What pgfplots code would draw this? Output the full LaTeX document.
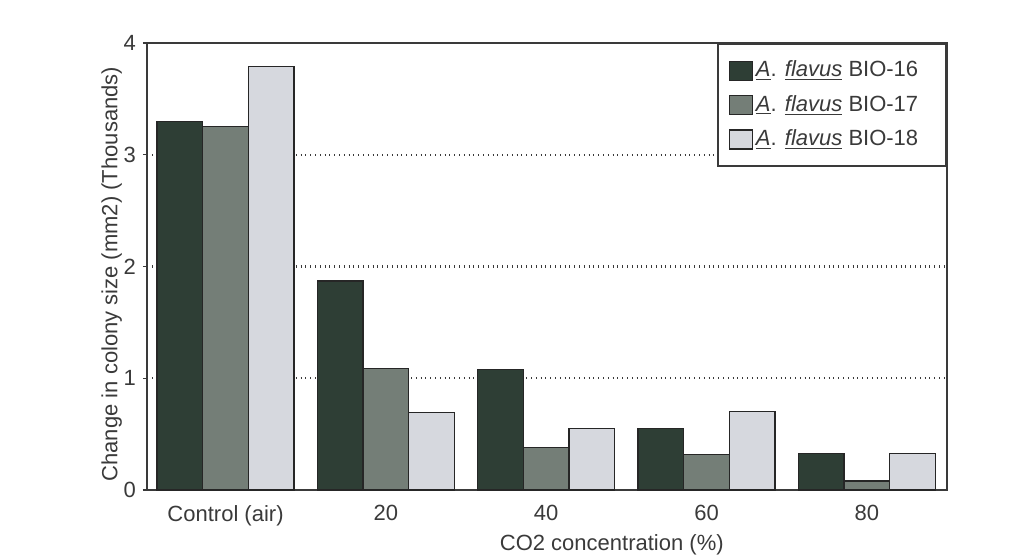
\documentclass[border=0pt]{standalone}
\usepackage{pgfplots}
\pgfplotsset{compat=1.18}
\usepackage{fontspec}
\setmainfont{Liberation Sans}

\definecolor{bioA}{RGB}{46,62,53}
\definecolor{bioB}{RGB}{116,126,119}
\definecolor{bioC}{RGB}{214,216,222}
\definecolor{ink}{RGB}{58,58,58}

\newcommand{\strain}[1]{\underline{\textit{A}}. \underline{\textit{flavus}} BIO-#1\rule{7pt}{0pt}}

\begin{document}
\begin{tikzpicture}
\path[use as bounding box] (-73.5pt,-34pt) rectangle (432.5pt,245pt);
\begin{axis}[
	at={(0pt,0pt)}, anchor=south west,
	scale only axis,
	width=400pt, height=223.5pt,
	ybar=0pt,
	bar width=0.285,
	xmin=-0.49, xmax=4.50,
	ymin=0, ymax=4,
	xtick={0,1,2,3,4},
	xticklabels={Control (air),20,40,60,80},
	ytick={0,1,2,3,4},
	xtick style={draw=none},
	ytick pos=left,
	tick align=outside,
	major tick length=2pt,
	ytick style={ink, line width=0.6pt},
	axis line style={ink, line width=0.8pt},
	ymajorgrids,
	grid style={ink, dotted, line width=1.1pt},
	/pgf/number format/assume math mode=true,
	tick label style={font=\fontsize{11}{13}\selectfont, text=ink},
	xticklabel style={yshift=-2pt},
	label style={font=\fontsize{11}{13}\selectfont, text=ink},
	ylabel={Change in colony size (mm2) (Thousands)},
	ylabel style={at={(axis description cs:-0.044,0.483)}, anchor=center, rotate=0},
	xlabel={CO2 concentration (\%)},
	xlabel style={at={(axis description cs:0.581,-0.123)}, anchor=center},
	legend style={at={(1,1)}, anchor=north east, draw=ink, line width=0.8pt,
		font=\fontsize{11}{13}\selectfont, text=ink,
		inner xsep=5.5pt, inner ysep=4.8pt,
		nodes={text height=8.5pt, text depth=2.5pt, inner ysep=3.1pt, inner xsep=1.5pt},
		legend cell align=left},
	legend image code/.code={\draw[#1, line width=0.6pt] (0pt,-4.75pt) rectangle (11.5pt,4.75pt);},
	every axis plot/.append style={draw=black!85, line width=0.6pt},
]
\addplot[fill=bioA] coordinates {(0,3.30) (1,1.87) (2,1.08) (3,0.55) (4,0.33)};
\addplot[fill=bioB] coordinates {(0,3.25) (1,1.09) (2,0.38) (3,0.32) (4,0.08)};
\addplot[fill=bioC] coordinates {(0,3.79) (1,0.69) (2,0.55) (3,0.70) (4,0.33)};
\legend{\strain{16},\strain{17},\strain{18}}
\end{axis}
\end{tikzpicture}
\end{document}
